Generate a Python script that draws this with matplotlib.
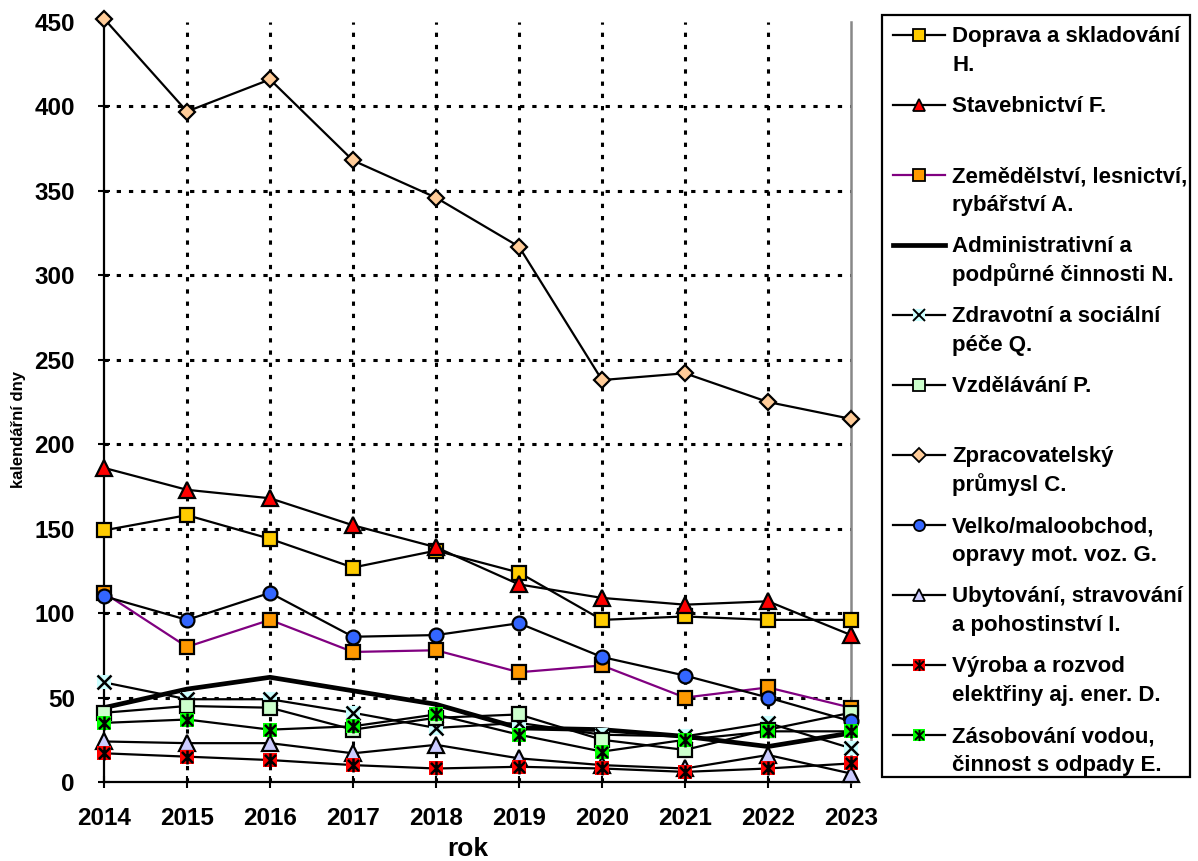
import matplotlib
matplotlib.use('Agg')
import matplotlib.pyplot as plt
from matplotlib.patches import Rectangle
from matplotlib.path import Path

# ---------------- data ----------------
years = [2014, 2015, 2016, 2017, 2018, 2019, 2020, 2021, 2022, 2023]

doprava_H = [149, 158, 144, 127, 137, 124, 96, 98, 96, 96]
stavebnictvi_F = [186, 173, 168, 152, 139, 117, 109, 105, 107, 87]
zemedelstvi_A = [112, 80, 96, 77, 78, 65, 69, 50, 56, 44]
administrativni_N = [44, 55, 62, 54, 46, 32, 31, 27, 21, 29]
zdravotni_Q = [59, 49, 49, 41, 32, 35, 28, 27, 35, 20]
vzdelavani_P = [41, 45, 44, 31, 38, 40, 25, 19, 31, 41]
zpracovatelsky_C = [452, 397, 416, 368, 346, 317, 238, 242, 225, 215]
velkoobchod_G = [110, 96, 112, 86, 87, 94, 74, 63, 50, 36]
ubytovani_I = [24, 23, 23, 17, 22, 14, 10, 8, 16, 5]
vyroba_D = [17, 15, 13, 10, 8, 9, 8, 6, 8, 11]
zasobovani_E = [35, 37, 31, 33, 40, 28, 18, 25, 30, 30]

labels = [
    ("Doprava a skladování", "H."),
    ("Stavebnictví F.", ""),
    ("Zemědělství, lesnictví,", "rybářství A."),
    ("Administrativní a", "podpůrné činnosti N."),
    ("Zdravotní a sociální", "péče Q."),
    ("Vzdělávání P.", ""),
    ("Zpracovatelský", "průmysl C."),
    ("Velko/maloobchod,", "opravy mot. voz. G."),
    ("Ubytování, stravování", "a pohostinství I."),
    ("Výroba a rozvod", "elektřiny aj. ener. D."),
    ("Zásobování vodou,", "činnost s odpady E."),
]
y_ticks = [0, 50, 100, 150, 200, 250, 300, 350, 400, 450]

# ---------------- styles ----------------
star = Path([(0, -1), (0, 1), (-0.8, -0.8), (0.8, 0.8), (-0.8, 0.8), (0.8, -0.8)],
            [Path.MOVETO, Path.LINETO, Path.MOVETO, Path.LINETO, Path.MOVETO, Path.LINETO])

series = [
    (doprava_H, dict(color='black', lw=1.6, marker='s', mfc='#FFCC00', mec='black'), None),
    (stavebnictvi_F, dict(color='black', lw=1.6, marker='^', mfc='#FF0000', mec='black'), None),
    (zemedelstvi_A, dict(color='#800080', lw=1.6, marker='s', mfc='#FF9900', mec='black'), None),
    (administrativni_N, dict(color='black', lw=3.4, marker=None), None),
    (zdravotni_Q, dict(color='black', lw=1.6, marker='s', mfc='#CCFFFF', mec='none'), 'x'),
    (vzdelavani_P, dict(color='black', lw=1.6, marker='s', mfc='#CCFFCC', mec='black'), None),
    (zpracovatelsky_C, dict(color='black', lw=1.6, marker='D', mfc='#FFCC99', mec='black'), None),
    (velkoobchod_G, dict(color='black', lw=1.6, marker='o', mfc='#3366FF', mec='black'), None),
    (ubytovani_I, dict(color='black', lw=1.6, marker='^', mfc='#CCCCFF', mec='black'), None),
    (vyroba_D, dict(color='black', lw=1.6, marker='s', mfc='#FF0000', mec='none'), star),
    (zasobovani_E, dict(color='black', lw=1.6, marker='s', mfc='#00FF00', mec='none'), star),
]

plt.rcParams['font.family'] = ['Liberation Sans', 'DejaVu Sans']
plt.rcParams['font.weight'] = 'bold'

W, H = 1198, 861
fig = plt.figure(figsize=(W / 100, H / 100), dpi=100)
ax = fig.add_axes([104 / W, 1 - 782 / H, (851 - 104) / W, (782 - 22) / H])

ax.set_xlim(years[0], years[-1])
ax.set_ylim(y_ticks[0], y_ticks[-1])

# grid (dotted), not over the frame
for yv in y_ticks[1:-1]:
    ax.axhline(yv, color='black', lw=2.2, ls=(0, (1.4, 2.6)), zorder=1)
for xv in years[1:-1]:
    ax.axvline(xv, color='black', lw=2.2, ls=(0, (1.4, 2.6)), zorder=1)


def marker_size(m):
    if m == 'D':
        return 8.5
    if m == '^':
        return 11
    return 10


z = 3
for vals, st, over in series:
    kw = dict(st)
    m = kw.pop('marker')
    if m is None:
        ax.plot(years, vals, zorder=z, clip_on=False, solid_joinstyle='round', **kw)
    else:
        ax.plot(years, vals, marker=m, ms=marker_size(m), mew=1.6, zorder=z, clip_on=False, **kw)
    if over is not None:
        ax.plot(years, vals, ls='none', marker=over, ms=10,
                mew=1.8, mec='black', mfc='none', zorder=z + 0.5, clip_on=False)
    z += 1

ax.set_xticks(years)
ax.set_yticks(y_ticks)
ax.tick_params(axis='both', direction='inout', length=8, width=1.5, labelsize=17.5, colors='black')
ax.tick_params(axis='y', pad=17)
ax.tick_params(axis='x', pad=14)
for lab in ax.get_xticklabels() + ax.get_yticklabels():
    lab.set_fontweight('bold')

ax.spines['top'].set_visible(False)
ax.spines['left'].set_linewidth(1.6)
ax.spines['bottom'].set_linewidth(1.6)
ax.spines['right'].set_color('#888888')
ax.spines['right'].set_linewidth(1.8)
ax.set_facecolor('white')

fig.text(468 / W, 1 - 849 / H, 'rok', ha='center', va='center', fontsize=19, fontweight='bold')
fig.text(19 / W, 1 - 430 / H, 'kalendářní dny', ha='center', va='center', rotation=90,
         fontsize=12, fontweight='bold')

# ---------------- legend (manual) ----------------
lax = fig.add_axes([0, 0, 1, 1])
lax.set_xlim(0, W)
lax.set_ylim(H, 0)
lax.axis('off')
lax.add_patch(Rectangle((882, 15), 1190 - 882, 777 - 15, fill=False, ec='black', lw=1.6))

y0, dy = 35, 70
for i, ((vals, st, over), (l1, l2)) in enumerate(zip(series, labels)):
    yy = y0 + i * dy
    kw = dict(st)
    m = kw.pop('marker')
    lax.plot([893, 945], [yy, yy], color=kw['color'], lw=kw['lw'] if m else 3.4)
    if m is not None:
        lax.plot([919], [yy], ls='none', marker=m, ms=marker_size(m) * 0.8, mfc=kw['mfc'],
                 mec=kw['mec'], mew=1.3)
    if over is not None:
        lax.plot([919], [yy], ls='none', marker=over, ms=8,
                 mew=1.4, mec='black', mfc='none')
    lax.text(952, yy + 7, l1, fontsize=16, fontweight='bold', va='baseline', ha='left')
    if l2:
        lax.text(952, yy + 36, l2, fontsize=16, fontweight='bold', va='baseline', ha='left')

fig.savefig('out.png', dpi=100, facecolor='white')
